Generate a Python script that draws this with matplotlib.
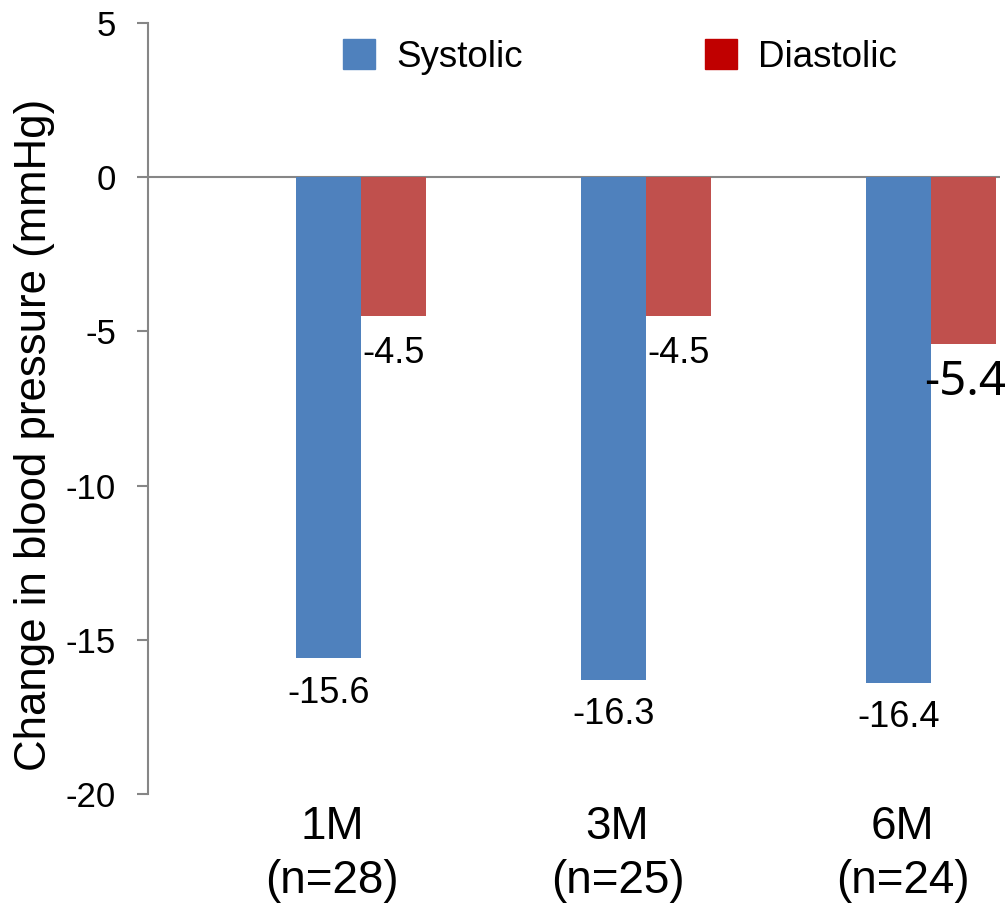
import matplotlib
matplotlib.use("Agg")
import matplotlib.pyplot as plt
import matplotlib.patches as mpatches
import numpy as np

plt.rcParams["font.family"] = ["Liberation Sans", "DejaVu Sans"]
plt.rcParams["axes.unicode_minus"] = False

# change from baseline, mmHg
periods = ["1M", "3M", "6M"]
n_patients = [28, 25, 24]
systolic = [-15.6, -16.3, -16.4]
diastolic = [-4.5, -4.5, -5.4]

BLUE = "#4F81BD"
RED = "#C0504D"
RED_KEY = "#C00000"
GREY = "#868686"

W, H = 1007, 905
fig = plt.figure(figsize=(W / 100, H / 100), dpi=100)
ax = fig.add_axes([148 / W, (H - 794) / H, (1000 - 148) / W, (794 - 23) / H])

x = np.arange(len(periods))
bw = 0.228
ax.bar(x - bw / 2, systolic, bw, color=BLUE, linewidth=0)
ax.bar(x + bw / 2, diastolic, bw, color=RED, linewidth=0)

for i, v in enumerate(systolic):
    ax.annotate(f"{v:.1f}", (x[i] - bw / 2, v), xytext=(0, -25),
                textcoords="offset points", ha="center", va="center",
                fontsize=26)
for i, v in enumerate(diastolic):
    big = i == 2
    ax.annotate(f"{v:.1f}", (x[i] + bw / 2, v), xytext=(1 if big else 0, -28 if big else -27),
                textcoords="offset points", ha="center", va="center",
                fontsize=34 if big else 26,
                family=["Noto Sans", "DejaVu Sans"] if big else None)

ax.axhline(0, color=GREY, linewidth=1.5, zorder=0)
ax.set_xlim(-0.747, 2.242)
ax.set_ylim(-20, 5)
ax.set_yticks(np.arange(-20, 6, 5))
ax.tick_params(axis="y", direction="out", length=8, width=1.5, color=GREY,
               labelsize=25, pad=15)
ax.set_xticks(x - 0.1)
ax.set_xticklabels([f"{p}\n(n={n})" for p, n in zip(periods, n_patients)],
                   fontsize=33, linespacing=1.3)
ax.tick_params(axis="x", length=0, pad=8)

for s in ["top", "right", "bottom"]:
    ax.spines[s].set_visible(False)
ax.spines["left"].set_color(GREY)
ax.spines["left"].set_linewidth(1.5)

fig.text(35 / W, 1 - 435 / H, "Change in blood pressure (mmHg)", rotation=90,
         ha="center", va="center", fontsize=31.5)

handles = [mpatches.Patch(color=BLUE, label="Systolic"),
           mpatches.Patch(color=RED_KEY, label="Diastolic")]
fig.legend(handles=handles, loc="center left",
           bbox_to_anchor=(343 / W, 1 - 57 / H), ncol=2, frameon=False,
           fontsize=26.5, handlelength=0.87, handleheight=0.85,
           handletextpad=0.57, columnspacing=4.95, borderpad=0,
           borderaxespad=0)

fig.savefig("out.png", dpi=100)
